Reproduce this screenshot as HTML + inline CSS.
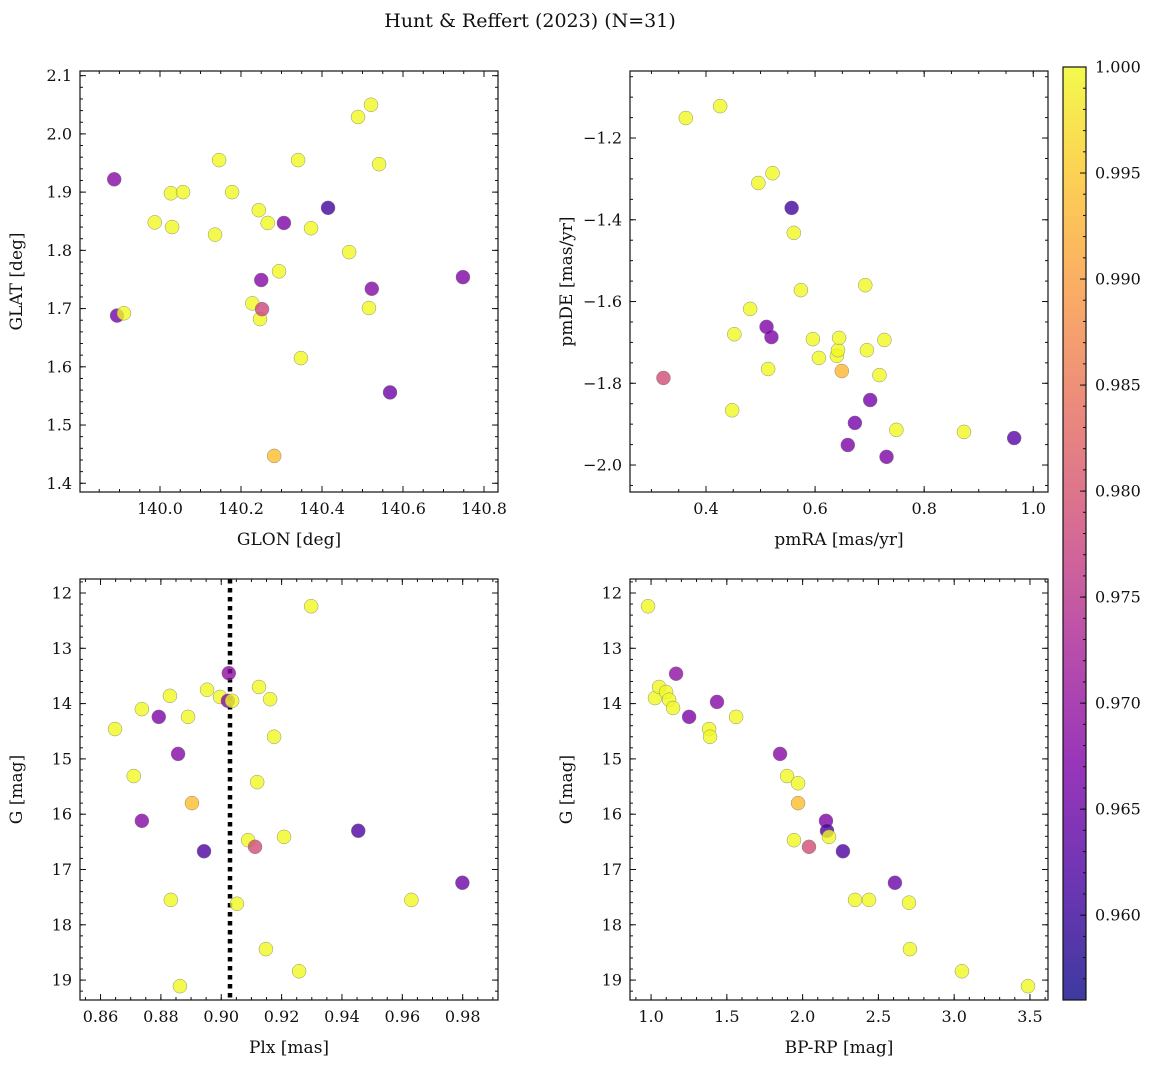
<!DOCTYPE html>
<html><head><meta charset="utf-8">
<style>
body{margin:0;background:#fff;}
svg{display:block;font-family:"DejaVu Serif","Liberation Serif",serif;}
</style></head>
<body>
<svg id="chart" width="1161" height="1067" xmlns="http://www.w3.org/2000/svg">
<text x="530" y="27" text-anchor="middle" font-size="19" fill="#111">Hunt &amp; Reffert (2023) (N=31)</text>
</svg>
<script>
// ---- data ----
const glon = [139.887,139.894,139.911,139.987,140.027,140.030,140.057,140.136,140.146,140.178,140.228,140.244,140.247,140.250,140.252,140.266,140.282,140.294,140.306,140.341,140.348,140.373,140.415,140.467,140.489,140.516,140.521,140.523,140.541,140.568,140.748];
const glat = [1.922,1.688,1.692,1.848,1.898,1.840,1.900,1.827,1.955,1.900,1.709,1.869,1.682,1.749,1.699,1.847,1.447,1.764,1.847,1.955,1.615,1.838,1.873,1.797,2.029,1.701,2.050,1.734,1.948,1.556,1.754];
const probTL = [0.968,0.966,1,1,1,1,1,1,1,1,1,1,1,0.968,0.978,1,0.994,1,0.967,1,1,1,0.961,1,1,1,1,0.968,1,0.965,0.967];

const pmra = [0.322,0.363,0.426,0.448,0.452,0.481,0.496,0.511,0.514,0.520,0.522,0.557,0.561,0.574,0.596,0.607,0.640,0.642,0.644,0.649,0.660,0.673,0.692,0.695,0.701,0.718,0.727,0.731,0.749,0.873,0.965];
const pmde = [-1.787,-1.151,-1.122,-1.866,-1.680,-1.618,-1.310,-1.662,-1.765,-1.687,-1.286,-1.371,-1.432,-1.572,-1.692,-1.738,-1.733,-1.719,-1.689,-1.770,-1.951,-1.897,-1.560,-1.719,-1.841,-1.780,-1.694,-1.980,-1.914,-1.919,-1.934];
const probTR = [0.979,1,1,1,1,1,1,0.967,1,0.967,1,0.961,1,1,1,1,1,1,1,0.993,0.967,0.966,1,1,0.966,1,1,0.967,1,1,0.963];

const plx = [0.8648,0.8710,0.8737,0.8737,0.8793,0.8830,0.8833,0.8857,0.8863,0.8890,0.8903,0.8943,0.8953,0.8996,0.9022,0.9025,0.9036,0.9052,0.9089,0.9112,0.9119,0.9125,0.9148,0.9162,0.9175,0.9208,0.9258,0.9298,0.9454,0.9630,0.9799];
const gmagBL = [14.46,15.31,14.10,16.12,14.24,13.86,17.55,14.91,19.11,14.24,15.80,16.67,13.75,13.88,13.95,13.45,13.95,17.62,16.47,16.59,15.42,13.70,18.44,13.92,14.60,16.41,18.84,12.24,16.30,17.55,17.24];
const probBL = [1,1,1,0.968,0.967,1,1,0.968,1,1,0.994,0.962,1,1,0.968,0.969,1,1,1,0.979,1,1,1,1,1,1,1,1,0.962,1,0.965];
const plxLine = 0.9029;

const bprp = [0.980,1.026,1.053,1.099,1.119,1.145,1.165,1.251,1.383,1.389,1.435,1.561,1.851,1.897,1.943,1.970,1.970,2.042,2.154,2.161,2.174,2.266,2.346,2.438,2.609,2.702,2.708,3.051,3.487];
const gmagBR = [12.24,13.90,13.70,13.79,13.93,14.08,13.46,14.24,14.46,14.60,13.97,14.24,14.91,15.31,16.47,15.44,15.80,16.59,16.12,16.30,16.41,16.67,17.55,17.55,17.24,17.60,18.44,18.84,19.11];
const probBR = [1,1,1,1,1,1,0.969,0.967,1,1,0.968,1,0.968,1,1,1,0.994,0.979,0.967,0.962,1,0.962,1,1,0.965,1,1,1,1];

const cbTicks = [0.960,0.965,0.970,0.975,0.980,0.985,0.990,0.995,1.000];
const VMIN = 0.956, VMAX = 1.0;

// ---- helpers ----
const NS = "http://www.w3.org/2000/svg";
const svg = document.getElementById('chart');
function mk(tag, attrs, parent){
  const e = document.createElementNS(NS, tag);
  for (const k in attrs) e.setAttribute(k, attrs[k]);
  (parent||svg).appendChild(e);
  return e;
}
const stops = [[0,'#0d0887'],[0.13,'#4b03a1'],[0.25,'#7d03a8'],[0.38,'#a82296'],[0.5,'#cb4679'],[0.63,'#e56b5d'],[0.75,'#f89441'],[0.88,'#fdc328'],[1,'#f0f921']];
function hex(h){return [1,3,5].map(i=>parseInt(h.substr(i,2),16));}
function plasma(t){
  t=Math.max(0,Math.min(1,t));
  for(let i=1;i<stops.length;i++){
    if(t<=stops[i][0]){
      const a=stops[i-1],b=stops[i];const f=(t-a[0])/(b[0]-a[0]);
      const ca=hex(a[1]),cb=hex(b[1]);
      return 'rgb('+ca.map((v,j)=>Math.round(v+(cb[j]-v)*f)).join(',')+')';
    }
  }
  return stops[stops.length-1][1];
}
function fmt(v,d){ const s=v.toFixed(d); return v<0 ? '\u2212'+s.substr(1) : s; }

function panel(p){
  const g = mk('g',{});
  
  
  const sx = v => p.x0 + (v-p.xlim[0])/(p.xlim[1]-p.xlim[0])*(p.x1-p.x0);
  const sy = v => p.y1 - (v-p.ylim[0])/(p.ylim[1]-p.ylim[0])*(p.y1-p.y0);
  const lo = (a,b)=>Math.min(a,b), hi=(a,b)=>Math.max(a,b);
  function ticks(step, lim){ const out=[]; const a=lo(lim[0],lim[1]), b=hi(lim[0],lim[1]);
    for(let v=Math.ceil(a/step-1e-9)*step; v<=b+1e-9; v+=step) out.push(+v.toFixed(6)); return out; }
  const tg = mk('g',{stroke:'#111','stroke-width':1}, g);
  ticks(p.xminor,p.xlim).forEach(v=>{const x=sx(v);
    mk('line',{x1:x,x2:x,y1:p.y1,y2:p.y1-3},tg); mk('line',{x1:x,x2:x,y1:p.y0,y2:p.y0+3},tg);});
  ticks(p.yminor,p.ylim).forEach(v=>{const y=sy(v);
    mk('line',{x1:p.x0,x2:p.x0+3,y1:y,y2:y},tg); mk('line',{x1:p.x1,x2:p.x1-3,y1:y,y2:y},tg);});
  ticks(p.xmajor,p.xlim).forEach(v=>{const x=sx(v);
    mk('line',{x1:x,x2:x,y1:p.y1,y2:p.y1-6},tg); mk('line',{x1:x,x2:x,y1:p.y0,y2:p.y0+6},tg);
    const t=mk('text',{x:x,y:p.y1+22,'text-anchor':'middle','font-size':16,fill:'#111',stroke:'none'},g);
    t.textContent=fmt(v,p.xdec);
    
    });
  ticks(p.ymajor,p.ylim).forEach(v=>{const y=sy(v);
    mk('line',{x1:p.x0,x2:p.x0+6,y1:y,y2:y},tg); mk('line',{x1:p.x1,x2:p.x1-6,y1:y,y2:y},tg);
    const t=mk('text',{x:p.x0-8,y:y+5.5,'text-anchor':'end','font-size':16,fill:'#111'},g);
    t.textContent=fmt(v,p.ydec);
    
    });
  if(p.vline!==undefined){
    const l=mk('line',{x1:sx(p.vline),x2:sx(p.vline),y1:p.y0,y2:p.y1,stroke:'#000','stroke-width':4.5,'stroke-dasharray':'4.5,4.5'},g);
    
    
  }
  p.xs.forEach((xv,i)=>{
    const c=mk('circle',{cx:sx(xv),cy:sy(p.ys[i]),r:7,fill:plasma((p.cs[i]-VMIN)/(VMAX-VMIN)),'fill-opacity':0.8,stroke:'#777','stroke-width':0.5,'stroke-opacity':0.8},g);
    
    
  });
  mk('rect',{x:p.x0,y:p.y0,width:p.x1-p.x0,height:p.y1-p.y0,fill:'none',stroke:'#111','stroke-width':1.2},g);
  const xl=mk('text',{x:(p.x0+p.x1)/2,y:p.y1+53,'text-anchor':'middle','font-size':17,fill:'#111'},g);
  xl.textContent=p.xlabel;
  
  
  const yc=(p.y0+p.y1)/2, yx=p.x0-58;
  const yl=mk('text',{x:yx,y:yc,'text-anchor':'middle','font-size':17,fill:'#111',transform:'rotate(-90 '+yx+' '+yc+')'},g);
  yl.textContent=p.ylabel;
  
  
}

panel({name:'glon-glat-panel',x0:80,x1:498,y0:71,y1:492,xlim:[139.8025,140.8346],ylim:[1.385,2.108],
  xmajor:0.2,xminor:0.05,ymajor:0.1,yminor:0.02,xdec:1,ydec:1,xs:glon,ys:glat,cs:probTL,xlabel:'GLON [deg]',ylabel:'GLAT [deg]'});
panel({name:'proper-motion-panel',x0:630,x1:1048,y0:71,y1:492,xlim:[0.2607,1.027],ylim:[-2.066,-1.036],
  xmajor:0.2,xminor:0.05,ymajor:0.2,yminor:0.05,xdec:1,ydec:1,xs:pmra,ys:pmde,cs:probTR,xlabel:'pmRA [mas/yr]',ylabel:'pmDE [mas/yr]'});
panel({name:'parallax-magnitude-panel',x0:80,x1:498,y0:579,y1:1000,xlim:[0.8532,0.9917],ylim:[19.36,11.747],
  xmajor:0.02,xminor:0.005,ymajor:1,yminor:0.2,xdec:2,ydec:0,xs:plx,ys:gmagBL,cs:probBL,xlabel:'Plx [mas]',ylabel:'G [mag]',vline:plxLine});
panel({name:'color-magnitude-panel',x0:630,x1:1048,y0:579,y1:1000,xlim:[0.861,3.619],ylim:[19.36,11.747],
  xmajor:0.5,xminor:0.1,ymajor:1,yminor:0.2,xdec:1,ydec:0,xs:bprp,ys:gmagBR,cs:probBR,xlabel:'BP-RP [mag]',ylabel:'G [mag]'});

// colorbar
(function(){
  const x0=1063,x1=1086,y0=67,y1=1000;
  const g=mk('g',{});
  
  
  const defs=mk('defs',{},g);
  const lg=mk('linearGradient',{id:'cbg',x1:0,y1:1,x2:0,y2:0},defs);
  for(let i=0;i<=20;i++){mk('stop',{offset:i/20,'stop-color':plasma(i/20),'stop-opacity':0.8},lg);}
  mk('rect',{x:x0,y:y0,width:x1-x0,height:y1-y0,fill:'url(#cbg)'},g);
  const sy=v=>y1-(v-VMIN)/(VMAX-VMIN)*(y1-y0);
  for(let v=0.957;v<=1.0+1e-9;v+=0.001){const y=sy(v);mk('line',{x1:x1,x2:x1-3,y1:y,y2:y,stroke:'#111'},g);}
  cbTicks.forEach(v=>{const y=sy(v);
    mk('line',{x1:x1,x2:x1-6,y1:y,y2:y,stroke:'#111'},g);
    const t=mk('text',{x:x1+9,y:y+5.5,'font-size':16,fill:'#111'},g);
    t.textContent=v.toFixed(3);
    
    });
  mk('rect',{x:x0,y:y0,width:x1-x0,height:y1-y0,fill:'none',stroke:'#111','stroke-width':1.2},g);
})();
</script>
</body></html>
